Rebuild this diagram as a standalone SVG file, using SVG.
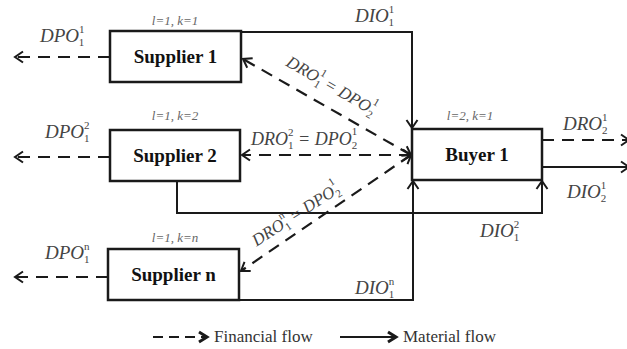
<svg xmlns="http://www.w3.org/2000/svg" width="627" height="349" viewBox="0 0 627 349">
<style>
.bx{fill:#fff;stroke:#1a1a1a;stroke-width:2.5}
.bt{font-family:"Liberation Serif",serif;font-weight:bold;font-size:19px;fill:#111;text-anchor:middle}
.lbl{font-family:"Liberation Serif",serif;font-style:italic;font-size:19px;fill:#444}
.sm{font-size:11px;font-style:normal}
.idx{font-family:"Liberation Serif",serif;font-style:italic;font-size:13px;fill:#666;text-anchor:middle}
.leg{font-family:"Liberation Serif",serif;font-size:17px;fill:#333}
.mat{fill:none;stroke:#1a1a1a;stroke-width:2}
.fin{fill:none;stroke:#1a1a1a;stroke-width:2.2;stroke-dasharray:12 8}
</style>
<defs>
<marker id="ah" markerUnits="userSpaceOnUse" markerWidth="14" markerHeight="14" refX="10" refY="7" orient="auto-start-reverse">
<path d="M2,1.5 L10,7 L2,12.5" fill="none" stroke="#1a1a1a" stroke-width="2" stroke-dasharray="none"/>
</marker>
<marker id="ahf" markerUnits="userSpaceOnUse" markerWidth="14" markerHeight="14" refX="10" refY="7" orient="auto">
<path d="M2,2 L10,7 L2,12" fill="none" stroke="#1a1a1a" stroke-width="3" stroke-dasharray="none"/>
</marker>
</defs>

<g id="connectors">
<path class="mat" d="M241,32 H412 V128" marker-end="url(#ah)"/>
<path class="mat" d="M177,181 V213 H542 V181" marker-end="url(#ah)"/>
<path class="mat" d="M239,300 H413 V181" marker-end="url(#ah)"/>
<path class="mat" d="M542,167 H629" marker-end="url(#ah)"/>
<path class="fin" d="M542,140 H629" marker-end="url(#ah)"/>
<path class="fin" d="M110,57 H15" marker-end="url(#ah)"/>
<path class="fin" d="M110,157 H15" marker-end="url(#ah)"/>
<path class="fin" d="M108,277 H15" marker-end="url(#ah)"/>
<path class="fin" d="M411,155 L243,59" marker-start="url(#ah)" marker-end="url(#ah)"/>
<path class="fin" d="M411,155 H242" marker-start="url(#ah)" marker-end="url(#ah)"/>
<path class="fin" d="M411,155 L241,271" marker-start="url(#ah)" marker-end="url(#ah)"/>
</g>

<g id="supplier1">
<rect class="bx" x="110" y="31" width="131" height="51"/>
<text class="bt" x="175.5" y="63">Supplier 1</text>
<text class="idx" x="175" y="25">l=1, k=1</text>
</g>
<g id="supplier2">
<rect class="bx" x="110" y="130" width="130" height="51"/>
<text class="bt" x="175" y="162">Supplier 2</text>
<text class="idx" x="175" y="120">l=1, k=2</text>
</g>
<g id="suppliern">
<rect class="bx" x="108" y="249" width="131" height="51"/>
<text class="bt" x="173.5" y="281">Supplier n</text>
<text class="idx" x="175" y="242">l=1, k=n</text>
</g>
<g id="buyer1">
<rect class="bx" x="412" y="129" width="130" height="51"/>
<text class="bt" x="477" y="161">Buyer 1</text>
<text class="idx" x="470" y="120">l=2, k=1</text>
</g>

<g id="labels">
<text class="lbl" x="40" y="42">DPO<tspan class="sm" dy="-9">1</tspan><tspan class="sm" dx="-5.5" dy="13">1</tspan></text>
<text class="lbl" x="45" y="138">DPO<tspan class="sm" dy="-9">2</tspan><tspan class="sm" dx="-5.5" dy="13">1</tspan></text>
<text class="lbl" x="45" y="259">DPO<tspan class="sm" dy="-9">n</tspan><tspan class="sm" dx="-5.5" dy="13">1</tspan></text>
<text class="lbl" x="355" y="22">DIO<tspan class="sm" dy="-9">1</tspan><tspan class="sm" dx="-5.5" dy="13">1</tspan></text>
<text class="lbl" x="563" y="130">DRO<tspan class="sm" dy="-9">1</tspan><tspan class="sm" dx="-5.5" dy="13">2</tspan></text>
<text class="lbl" x="567" y="198">DIO<tspan class="sm" dy="-9">1</tspan><tspan class="sm" dx="-5.5" dy="13">2</tspan></text>
<text class="lbl" x="480" y="237">DIO<tspan class="sm" dy="-9">2</tspan><tspan class="sm" dx="-5.5" dy="13">1</tspan></text>
<text class="lbl" x="355" y="294">DIO<tspan class="sm" dy="-9">n</tspan><tspan class="sm" dx="-5.5" dy="13">1</tspan></text>
<text class="lbl" style="font-size:18px" x="251" y="145">DRO<tspan class="sm" dy="-9">2</tspan><tspan class="sm" dx="-5.5" dy="13">1</tspan><tspan dy="-4"> = DPO</tspan><tspan class="sm" dy="-10">1</tspan><tspan class="sm" dx="-5.5" dy="14">2</tspan></text>
<g transform="translate(331,86) rotate(30)">
<text class="lbl" style="font-size:17px" x="0" y="5" text-anchor="middle">DRO<tspan class="sm" dy="-9">1</tspan><tspan class="sm" dx="-5.5" dy="13">1</tspan><tspan dy="-4"> = DPO</tspan><tspan class="sm" dy="-10">1</tspan><tspan class="sm" dx="-5.5" dy="14">2</tspan></text>
</g>
<g transform="translate(296,215) rotate(-33)">
<text class="lbl" style="font-size:17px" x="0" y="5" text-anchor="middle">DRO<tspan class="sm" dy="-9">n</tspan><tspan class="sm" dx="-5.5" dy="13">1</tspan><tspan dy="-4"> = DPO</tspan><tspan class="sm" dy="-10">1</tspan><tspan class="sm" dx="-5.5" dy="14">2</tspan></text>
</g>
</g>

<g id="legend">
<path class="fin" style="stroke-dasharray:10 6" d="M153,337 H207" marker-end="url(#ahf)"/>
<text class="leg" x="214" y="342">Financial flow</text>
<path class="mat" d="M340,337 H396" marker-end="url(#ahf)"/>
<text class="leg" x="403" y="342">Material flow</text>
</g>
</svg>
